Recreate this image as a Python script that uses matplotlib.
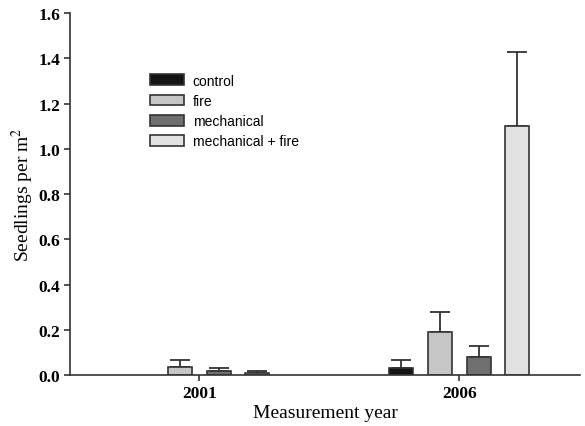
import numpy as np
import matplotlib
matplotlib.use("Agg")
import matplotlib.pyplot as plt

years = ["2001", "2006"]
treatments = ["control", "fire", "mechanical", "mechanical + fire"]
means = {
    "control": [0.0, 0.031],
    "fire": [0.035, 0.19],
    "mechanical": [0.018, 0.08],
    "mechanical + fire": [0.008, 1.10],
}
errors = {
    "control": [0.0, 0.035],
    "fire": [0.031, 0.088],
    "mechanical": [0.014, 0.048],
    "mechanical + fire": [0.009, 0.33],
}
colors = ["#141414", "#c6c6c6", "#6f6f6f", "#e2e2e2"]

plt.rcParams["mathtext.fontset"] = "stix"

fig = plt.figure(figsize=(5.85, 4.27), dpi=100)
ax = fig.add_axes([0.12, 0.119, 0.872, 0.848])

x = np.arange(len(years))
width = 0.092
offsets = [-0.225, -0.075, 0.077, 0.223]
for i, t in enumerate(treatments):
    vals = np.array(means[t])
    errs = np.array(errors[t])
    show = vals > 0
    ax.bar(x[show] + offsets[i], vals[show], width, color=colors[i],
           edgecolor="#333333", linewidth=1.2, label=t, zorder=2)
    ax.errorbar(x[show] + offsets[i], vals[show],
                yerr=[np.zeros(show.sum()), errs[show]],
                fmt="none", ecolor="#333333", elinewidth=1.3,
                capsize=7, capthick=1.3, zorder=1)

ax.set_xlim(-0.496, 1.465)
ax.set_ylim(0, 1.6)
ticks = np.arange(0, 1.61, 0.2)
ax.set_yticks(ticks)
ax.set_yticklabels([f"{v:.1f}" for v in ticks],
                   family="Liberation Serif", fontweight="bold", fontsize=12.5)
ax.set_xticks(x)
ax.set_xticklabels(years, family="Liberation Serif", fontweight="bold", fontsize=12.5)
ax.spines["top"].set_visible(False)
ax.spines["right"].set_visible(False)
for s in ["left", "bottom"]:
    ax.spines[s].set_color("#333333")
    ax.spines[s].set_linewidth(1.2)
ax.tick_params(direction="out", length=4, width=1.2, color="#333333", pad=3)

ax.set_ylabel("Seedlings per m$^2$", family="Liberation Serif", fontsize=14, labelpad=2)
ax.set_xlabel("Measurement year", family="Liberation Serif", fontsize=14, labelpad=2)

ax.legend(loc="upper left", bbox_to_anchor=(0.157, 0.833), frameon=False,
          borderaxespad=0, borderpad=0,
          prop={"family": "Liberation Sans", "size": 10},
          handlelength=2.4, handleheight=0.8, handletextpad=0.65,
          labelspacing=0.45)

fig.savefig("out.png", dpi=100)
